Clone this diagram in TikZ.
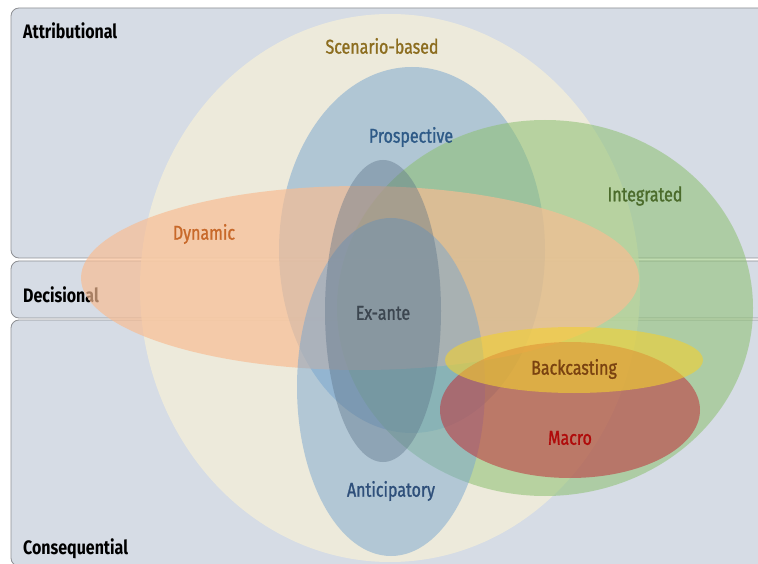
\documentclass[tikz,border=0pt]{standalone}
\usepackage{fontspec}
\newfontfamily\cfb{Fira Sans}[FakeStretch=0.82]
\newfontfamily\cfm{Fira Sans}[FakeStretch=0.80, FakeBold=1.2]
\definecolor{bandfill}{HTML}{D6DCE5}
\definecolor{bandline}{HTML}{8E9094}
\definecolor{cScen}{HTML}{F5F0D8}
\definecolor{cPros}{HTML}{7EA9CF}
\definecolor{cExan}{HTML}{5A7085}
\definecolor{cAnti}{HTML}{78A6D0}
\definecolor{cInte}{HTML}{8CC070}
\definecolor{cDyna}{HTML}{F8BC92}
\definecolor{cBack}{HTML}{F2D030}
\definecolor{cMacr}{HTML}{C0303A}
\definecolor{tScen}{HTML}{8C6D1F}
\definecolor{tPros}{HTML}{2E5A87}
\definecolor{tInte}{HTML}{4B6B2B}
\definecolor{tDyna}{HTML}{C8692A}
\definecolor{tExan}{HTML}{3C4650}
\definecolor{tBack}{HTML}{7A4210}
\definecolor{tMacr}{HTML}{B00A0A}
\definecolor{tAnti}{HTML}{2E4F7A}
\begin{document}
\begin{tikzpicture}[x=1pt,y=-1pt,
  band/.style={draw=bandline, fill=bandfill, rounded corners=8pt, line width=0.8pt},
  bandlbl/.style={font=\cfb\bfseries\fontsize{19.5}{19.5}\selectfont, text=black, inner sep=0pt, anchor=west},
  setlbl/.style={font=\cfm\fontsize{20}{20}\selectfont, inner sep=0pt},
  blob/.style={fill opacity=#1},
  blob/.default=0.6]
\useasboundingbox (0,0) rectangle (758,564);
\clip (0,0) rectangle (758,564);
\fill[white] (0,0) rectangle (758,564);
% bands
\draw[band] (11,8) rectangle (790,258);
\draw[band] (11,261) rectangle (790,318);
\draw[band] (11,320) rectangle (790,566);
\node[bandlbl] (attr) at (23,31) {Attributional};
\node[bandlbl] (deci) at (23,295) {Decisional};
\node[bandlbl] (cons) at (23,549) {Consequential};
% sets
\fill[cScen, blob=0.75] (390,288) ellipse [x radius=250pt, y radius=274pt];
\fill[cPros, blob=0.55] (412,250) ellipse [x radius=133pt, y radius=183pt];
\fill[cInte, blob=0.55] (545,308) ellipse [x radius=208pt, y radius=188pt];
\fill[cDyna, blob=0.68] (360,278) ellipse [x radius=279pt, y radius=92pt];
\fill[cAnti, blob=0.5] (391,387) ellipse [x radius=94pt, y radius=169pt];
\fill[cExan, blob=0.4] (383,311) ellipse [x radius=58pt, y radius=151pt];
\fill[cMacr, blob=0.55] (570,410) ellipse [x radius=130pt, y radius=68pt];
\fill[cBack, blob=0.6] (574,360) ellipse [x radius=129pt, y radius=33pt];
% set labels
\node[setlbl, text=tScen] (scen) at (382,46) {Scenario-based};
\node[setlbl, text=tPros] (pros) at (411,137) {Prospective};
\node[setlbl, text=tInte] (inte) at (645,196) {Integrated};
\node[setlbl, text=tDyna] (dyna) at (204,234) {Dynamic};
\node[setlbl, text=tExan] (exan) at (383,313) {Ex-ante};
\node[setlbl, text=tBack] (back) at (574,369) {Backcasting};
\node[setlbl, text=tMacr] (macr) at (570,438) {Macro};
\node[setlbl, text=tAnti] (anti) at (391,491) {Anticipatory};
\end{tikzpicture}
\end{document}
